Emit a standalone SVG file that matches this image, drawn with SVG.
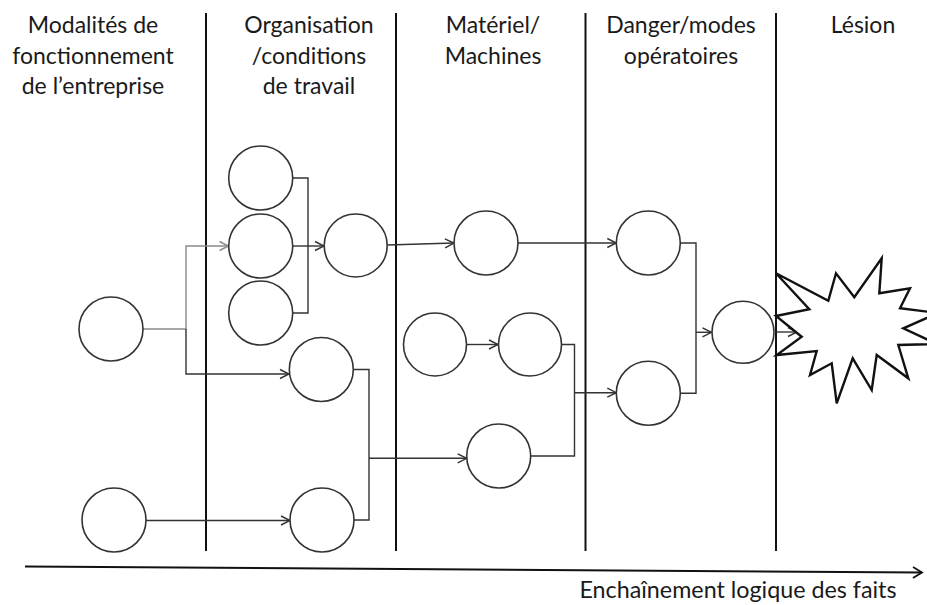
<svg xmlns="http://www.w3.org/2000/svg" width="927" height="605" viewBox="0 0 927 605">
<style>
  .hdr { font-family: Lato, "Liberation Sans", sans-serif; font-size: 23px; fill: #1a1a1a; text-anchor: middle; }
  .ftr { font-family: Lato, "Liberation Sans", sans-serif; font-size: 23.3px; fill: #1a1a1a; text-anchor: middle; }
  .sep { stroke: #111; stroke-width: 2; fill: none; }
  .node circle { fill: #fff; stroke: #333; stroke-width: 1.6; }
  .con { fill: none; stroke: #333; stroke-width: 1.4; }
  .con-gray { fill: none; stroke: #8a8a8a; stroke-width: 1.4; }
</style>
<defs>
  <marker id="arr" markerUnits="userSpaceOnUse" viewBox="-10 -6 12 12" refX="0" refY="0" markerWidth="12" markerHeight="12" orient="auto" overflow="visible">
    <path d="M-9,-4.5 L0,0 L-9,4.5" fill="none" stroke="#333" stroke-width="1.4"/>
  </marker>
  <marker id="arrg" markerUnits="userSpaceOnUse" viewBox="-10 -6 12 12" refX="0" refY="0" markerWidth="12" markerHeight="12" orient="auto" overflow="visible">
    <path d="M-9,-4.5 L0,0 L-9,4.5" fill="none" stroke="#8a8a8a" stroke-width="1.4"/>
  </marker>
  <marker id="arrk" markerUnits="userSpaceOnUse" viewBox="-12 -7 14 14" refX="0" refY="0" markerWidth="14" markerHeight="14" orient="auto" overflow="visible">
    <path d="M-9,-5.5 L0,0 L-9,5.5" fill="none" stroke="#111" stroke-width="1.8"/>
  </marker>
</defs>
<rect width="927" height="605" fill="#fff"/>

<g id="headers">
  <text class="hdr" x="93" y="33">Modalités de</text>
  <text class="hdr" x="93" y="64">fonctionnement</text>
  <text class="hdr" x="93" y="94">de l’entreprise</text>
  <text class="hdr" x="309" y="33">Organisation</text>
  <text class="hdr" x="309" y="64">/conditions</text>
  <text class="hdr" x="309" y="94">de travail</text>
  <text class="hdr" x="493" y="33">Matériel/</text>
  <text class="hdr" x="493" y="64">Machines</text>
  <text class="hdr" x="681" y="33">Danger/modes</text>
  <text class="hdr" x="681" y="64">opératoires</text>
  <text class="hdr" x="863" y="33">Lésion</text>
</g>

<g id="separators">
  <line class="sep" x1="206" y1="13" x2="206" y2="551"/>
  <line class="sep" x1="396" y1="13" x2="396" y2="551"/>
  <line class="sep" x1="585.5" y1="13" x2="585.5" y2="551"/>
  <line class="sep" x1="776" y1="13" x2="776" y2="551"/>
</g>

<g id="connectors">
  <path class="con-gray" d="M143,329 H186 V246 H228.5" marker-end="url(#arrg)"/>
  <path class="con" d="M186,329 V374 H289" marker-end="url(#arr)"/>
  <path class="con" d="M292.7,178 H308 V313 H292.7"/>
  <path class="con" d="M292.7,246 H324" marker-end="url(#arr)"/>
  <path class="con" d="M387.2,245 L454,243" marker-end="url(#arr)"/>
  <path class="con" d="M518,243 H616.3" marker-end="url(#arr)"/>
  <path class="con" d="M467,344.5 H498" marker-end="url(#arr)"/>
  <path class="con" d="M562,344.5 H574.5 V456 H530.7"/>
  <path class="con" d="M574.5,392.7 H616.3" marker-end="url(#arr)"/>
  <path class="con" d="M680.3,243 H696 V393.3 H680.3"/>
  <path class="con" d="M696,332.3 H711.5" marker-end="url(#arr)"/>
  <path class="con" d="M775,332 H797" marker-end="url(#arr)"/>
  <path class="con" d="M353.3,369.5 H369 V520 H354"/>
  <path class="con" d="M369,458.3 H466.7" marker-end="url(#arr)"/>
  <path class="con" d="M146,520.5 H290" marker-end="url(#arr)"/>
  <path d="M25,566.5 L922,572.5" fill="none" stroke="#111" stroke-width="2" marker-end="url(#arrk)"/>
</g>

<g id="n-a" class="node"><circle cx="111" cy="329" r="32"/></g>
<g id="n-l" class="node"><circle cx="114" cy="520" r="32"/></g>
<g id="n-s1" class="node"><circle cx="260.7" cy="178" r="32"/></g>
<g id="n-s2" class="node"><circle cx="260.7" cy="246" r="32"/></g>
<g id="n-s3" class="node"><circle cx="260.7" cy="313" r="32"/></g>
<g id="n-c" class="node"><circle cx="355.7" cy="245.5" r="31.5"/></g>
<g id="n-d" class="node"><circle cx="321.3" cy="369.5" r="32"/></g>
<g id="n-k" class="node"><circle cx="322" cy="520" r="32"/></g>
<g id="n-e" class="node"><circle cx="486" cy="243" r="32"/></g>
<g id="n-g" class="node"><circle cx="435" cy="344.5" r="31.5"/></g>
<g id="n-h" class="node"><circle cx="530" cy="344.5" r="31.5"/></g>
<g id="n-j" class="node"><circle cx="498.7" cy="456" r="32"/></g>
<g id="n-f" class="node"><circle cx="648.3" cy="243" r="32"/></g>
<g id="n-i" class="node"><circle cx="648.3" cy="393.3" r="32"/></g>
<g id="n-m" class="node"><circle cx="743" cy="332.3" r="31"/></g>

<g id="n-lesion">
  <polygon points="776,273.3 828.3,300.7 836,273.3 854.3,297.3 881.7,258.3 879.3,293.3 910,288.3 900,308.3 938,313 903.3,328.3 937,344 898.3,345 908.3,378.3 876.7,355 871.7,390 852.7,358.3 836.7,403.3 831.7,363.3 810,375 816.7,351 776.7,355 801.7,336.7 776,316 809.3,309.3" fill="#fff" stroke="#111" stroke-width="2.4" stroke-linejoin="miter"/>
</g>

<text class="ftr" x="738" y="598">Enchaînement logique des faits</text>
</svg>
